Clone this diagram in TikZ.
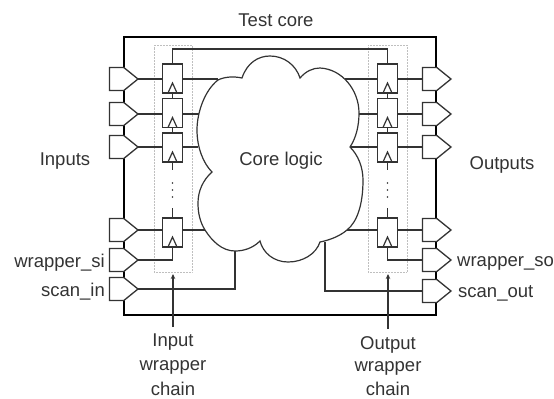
\documentclass[tikz,border=0pt]{standalone}
\usepackage{fontspec}
\setmainfont{Liberation Sans}
\usetikzlibrary{shapes.symbols,arrows.meta}
\definecolor{ink}{HTML}{333333}
\tikzset{
  wire/.style={draw=ink,line width=1.2bp},
  frame/.style={draw=black,line width=2.4bp},
  port/.style={shape=signal,signal to=east,signal pointer angle=78,draw=ink,fill=white,line width=1.3bp,
    minimum width=28.5bp,minimum height=23bp,inner sep=0pt,outer sep=0pt,anchor=east},
  cell/.style={shape=rectangle,draw=ink,fill=white,line width=1.4bp,minimum width=20bp,minimum height=29bp,inner sep=0pt,outer sep=0pt},
  chainbox/.style={draw=black!25,line width=0.5bp,densely dotted},
  lbl/.style={font=\fontsize{18.5bp}{20bp}\selectfont,text=ink,inner sep=0pt},
  pointer/.style={wire,-{Stealth[length=5bp,width=4.5bp]}},
  cloud line/.style={draw=ink,fill=white,line width=1.2bp},
}
\newcommand{\clockmark}[1]{\draw[wire] ([xshift=-4.5bp]#1.south) -- ([yshift=10bp]#1.south) -- ([xshift=4.5bp]#1.south);}
\begin{document}
\begin{tikzpicture}[x=1bp,y=-1bp]
\useasboundingbox (0,0) rectangle (554,398);
\draw[frame] (124,37) rectangle (436,315);
\draw[chainbox] (154,45) rectangle (192,272);
\draw[chainbox] (368,45) rectangle (407,272);

% ports
\foreach \n/\y in {a/79,b/114,c/147,d/230,e/260,f/289}{
  \node[port] (l\n) at (138,\y) {};
}
\foreach \n/\y in {a/79,b/114,c/147,d/230,e/260,f/291}{
  \node[port] (r\n) at (451,\y) {};
}
% scan cells
\foreach \n/\y in {a/78.5,b/113,c/147.5,d/232.5}{
  \node[cell] (cl\n) at (172.5,\y) {};
  \node[cell] (cr\n) at (387.5,\y) {};
}
% anchors on the cloud outline
\coordinate (ca) at (218,79);
\coordinate (cb) at (199,114);
\coordinate (cc) at (198,147);
\coordinate (cd) at (205,230);
\coordinate (da) at (345,79);
\coordinate (db) at (359,114);
\coordinate (dc) at (350,147);
\coordinate (dd) at (347,230);
\coordinate (sin) at (235,251);
\coordinate (sout) at (325,242);
\coordinate (topbus) at (0,49);
\coordinate (stubA) at (172.5,170);
\coordinate (stubB) at (172.5,208);
\coordinate (stubC) at (387.5,170);
\coordinate (stubD) at (387.5,208);
\coordinate (ilow) at (173,327);
\coordinate (itip) at (173,274);
\coordinate (olow) at (388,329);
\coordinate (otip) at (388,274);

% wires
\foreach \n in {a,b,c,d}{
  \draw[wire] (l\n.east) -- (l\n.east -| cl\n.west);
  \draw[wire] (r\n.west -| cr\n.east) -- (r\n.west);
  \draw[wire] (cl\n.east |- c\n) -- (c\n);
  \draw[wire] (d\n) -- (cr\n.west |- d\n);
}
\draw[wire] (cla.north) |- (topbus -| cra.north) -- (cra.north);
\draw[wire] (clb.north) -- (cla.south);
\draw[wire] (clc.north) -- (clb.south);
\draw[wire] (crb.north) -- (cra.south);
\draw[wire] (crc.north) -- (crb.south);
\draw[wire] (clc.south) -- (stubA);
\draw[wire] (stubB) -- (cld.north);
\draw[wire] (crc.south) -- (stubC);
\draw[wire] (stubD) -- (crd.north);
\draw[wire] (le.east) -| (cld.south);
\draw[wire] (re.west) -| (crd.south);
\draw[wire] (lf.east) -| (sin);
\draw[wire] (sout) |- (rf.west);
\foreach \n in {cla,clb,clc,cld,cra,crb,crc,crd}{\clockmark{\n}}
\foreach \y in {183,190,197}{
  \fill[ink] (172.5,\y) circle (0.9bp);
  \fill[ink] (387.5,\y) circle (0.9bp);
}

% core logic cloud
\path[cloud line] (242,78)
  .. controls (247,63) and (258,56) .. (270,56)
  .. controls (284,56) and (296,65) .. (300,78)
  .. controls (306,71) and (313,68) .. (320,68)
  .. controls (342,69) and (359,90) .. (359,113)
  .. controls (359,126) and (356,138) .. (350,147)
  .. controls (358,155) and (363,167) .. (363,180)
  .. controls (363,205) and (357,222) .. (347,230)
  .. controls (340,236) and (330,240) .. (320,242)
  .. controls (316,254) and (303,262) .. (288,262)
  .. controls (274,262) and (263,253) .. (260,241)
  .. controls (253,248) and (244,251) .. (235,251)
  .. controls (222,251) and (212,241) .. (205,230)
  .. controls (200,222) and (198,213) .. (198,203)
  .. controls (198,191) and (203,180) .. (212,172)
  .. controls (203,163) and (197,147) .. (197,130)
  .. controls (197,112) and (205,90) .. (218,80)
  .. controls (224,77) and (233,76) .. (242,78)
  -- cycle;

\draw[pointer] (ilow) -- (itip);
\draw[pointer] (olow) -- (otip);

% labels
\node[lbl] (title) at (276,20) {Test core};
\node[lbl] (core) at (281,161) {Core logic};
\node[lbl] (inp) at (65,161) {Inputs};
\node[lbl] (outp) at (502,165) {Outputs};
\node[lbl,anchor=east] (wsi) at (105,263) {wrapper\_si};
\node[lbl,anchor=east] (sin2) at (105,292) {scan\_in};
\node[lbl,anchor=west] (wso) at (457,263) {wrapper\_so};
\node[lbl,anchor=west] (sout2) at (458,293) {scan\_out};
\node[lbl] (i1) at (173,342) {Input};
\node[lbl] (i2) at (173,367) {wrapper};
\node[lbl] (i3) at (173,389) {chain};
\node[lbl] (o1) at (388,345) {Output};
\node[lbl] (o2) at (388,368) {wrapper};
\node[lbl] (o3) at (388,389) {chain};
\end{tikzpicture}
\end{document}
